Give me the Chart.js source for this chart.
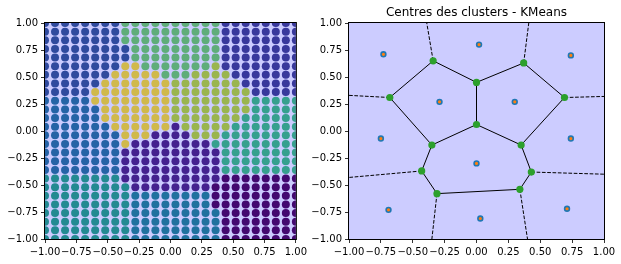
<!DOCTYPE html>
<html>
<head>
<meta charset="utf-8">
<script src="https://cdn.jsdelivr.net/npm/chart.js@4.4.0/dist/chart.umd.min.js"></script>
<style>
  html, body { margin: 0; padding: 0; background: #fff; }
  #wrap { position: relative; width: 621px; height: 264px; }
  .panel { position: absolute; top: 0; height: 264px; }
  #left { left: 0; width: 310px; }
  #right { left: 310px; width: 311px; }
</style>
</head>
<body>
<div id="wrap">
  <div class="panel" id="left"><canvas id="grid"></canvas></div>
  <div class="panel" id="right"><canvas id="voronoi"></canvas></div>
</div>
<script>
// grid of points (26 x 26), one letter per point = predicted cluster
const gridX = [-1.00, -0.92, -0.84, -0.76, -0.68, -0.60, -0.52, -0.44, -0.36, -0.28, -0.20, -0.12, -0.04,
               0.04, 0.12, 0.20, 0.28, 0.36, 0.44, 0.52, 0.60, 0.68, 0.76, 0.84, 0.92, 1.00];
const gridY = [1.00, 0.92, 0.84, 0.76, 0.68, 0.60, 0.52, 0.44, 0.36, 0.28, 0.20, 0.12, 0.04,
               -0.04, -0.12, -0.20, -0.28, -0.36, -0.44, -0.52, -0.60, -0.68, -0.76, -0.84, -0.92, -1.00];
const gridLabels = [
  "AAAAAAAABBBBBBBBBBCCCCCCCC",
  "AAAAAAAABBBBBBBBBBCCCCCCCC",
  "AAAAAAAABBBBBBBBBBCCCCCCCC",
  "AAAAAAAAABBBBBBBBBCCCCCCCC",
  "AAAAAAAAABBBBBBBBBCCCCCCCC",
  "AAAAAAAADDBBBBBBBECCCCCCCC",
  "AAAAAAADDDDDBBBEEEECCCCCCC",
  "AAAAAADDDDDDDEEEEEEECCCCCC",
  "AAAAADDDDDDDDEEEEEEEECCCCC",
  "FFFFFDDDDDDDDEEEEEEEEGGGGG",
  "FFFFFFDDDDDDDEEEEEEEEGGGGG",
  "FFFFFFDDDDDDDEEEEEEEGGGGGG",
  "FFFFFFFDDDDDDHEEEEEGGGGGGG",
  "FFFFFFFFDDDHHHHEEEGGGGGGGG",
  "FFFFFFFFDHHHHHHHHGGGGGGGGG",
  "FFFFFFFFHHHHHHHHHHGGGGGGGG",
  "FFFFFFFFHHHHHHHHHHGGGGGGGG",
  "FFFFFFFFHHHHHHHHHHGGGGGGGG",
  "IIIIIIIIHHHHHHHHHHKKKKKKKK",
  "IIIIIIIIIHHHHHHHHKKKKKKKKK",
  "IIIIIIIIIJJJJJJJJKKKKKKKKK",
  "IIIIIIIIIJJJJJJJJKKKKKKKKK",
  "IIIIIIIIIJJJJJJJJJKKKKKKKK",
  "IIIIIIIIIJJJJJJJJJKKKKKKKK",
  "IIIIIIIIIJJJJJJJJJKKKKKKKK",
  "IIIIIIIIIJJJJJJJJJKKKKKKKK"
];
const clusterColors = {
  A: '#2f4a9e', B: '#5fad7a', C: '#38389c', D: '#d0b94c', E: '#9ab54f', F: '#2563a6',
  G: '#36a08e', H: '#44218f', I: '#238a92', J: '#20719f', K: '#430870'
};

// KMeans centres
const centresX = [-0.73, 0.02, 0.74, -0.29, 0.30, -0.75, 0.74, 0.00, -0.69, 0.03, 0.71];
const centresY = [0.71, 0.80, 0.70, 0.27, 0.27, -0.07, -0.07, -0.30, -0.73, -0.81, -0.72];

// voronoi vertices and ridges
const vertX = [-0.34, 0.37, 0.00, -0.68, 0.69, 0.00, -0.35, 0.35, -0.43, 0.43, -0.31, 0.34];
const vertY = [0.65, 0.63, 0.45, 0.31, 0.31, 0.06, -0.13, -0.13, -0.37, -0.38, -0.58, -0.54];
const ridges = [[0, 2], [2, 1], [0, 3], [1, 4], [2, 5], [3, 6], [4, 7], [5, 6], [5, 7],
                [6, 8], [7, 9], [8, 10], [9, 11], [10, 11]];
// ridges going to infinity: start vertex and the point where they leave the box
const farVertex = [0, 1, 3, 4, 8, 9, 10, 11];
const farX = [-0.39, 0.41, -1.00, 1.00, -1.00, 1.00, -0.35, 0.40];
const farY = [1.00, 1.00, 0.33, 0.32, -0.43, -0.40, -1.00, -1.00];

Chart.defaults.font.family = "'DejaVu Sans', sans-serif";
Chart.defaults.font.size = 10;
Chart.defaults.color = '#000';

const fmt = v => (v < 0 ? '\u2212' : '') + Math.abs(v).toFixed(2);

function axis(size, isY) {
  return {
    type: 'linear', min: -1, max: 1,
    border: { display: false },
    grid: { drawOnChartArea: false, drawTicks: true, tickLength: 4, tickColor: '#000', tickWidth: 0.8 },
    ticks: { stepSize: 0.25, autoSkip: false, maxRotation: 0, minRotation: 0, padding: 3, callback: fmt },
    afterFit(scale) {
      if (isY) scale.width = size; else scale.height = size;
    }
  };
}

// lavender background + black frame round the plot area
const frame = {
  id: 'frame',
  beforeDraw(chart) {
    const { ctx, chartArea: a } = chart;
    ctx.save();
    ctx.fillStyle = '#ccccff';
    ctx.fillRect(a.left, a.top, a.right - a.left, a.bottom - a.top);
    ctx.restore();
  },
  afterDraw(chart) {
    const { ctx, chartArea: a } = chart;
    ctx.save();
    ctx.strokeStyle = '#000';
    ctx.lineWidth = 1;
    ctx.strokeRect(a.left - 0.5, a.top - 0.5, a.right - a.left + 1, a.bottom - a.top + 1);
    ctx.restore();
  }
};

// left: grid coloured by cluster
const gridPoints = [];
const gridColors = [];
gridLabels.forEach((row, j) => {
  for (let i = 0; i < row.length; i++) {
    gridPoints.push({ x: gridX[i], y: gridY[j] });
    gridColors.push(clusterColors[row[i]]);
  }
});

new Chart(document.getElementById('grid'), {
  type: 'scatter',
  data: {
    datasets: [{
      data: gridPoints,
      backgroundColor: gridColors,
      borderWidth: 0,
      pointRadius: 4,
      pointHoverRadius: 4,
      clip: 0
    }]
  },
  options: {
    responsive: true,
    maintainAspectRatio: false,
    animation: false,
    events: [],
    layout: { padding: { top: 23, right: 12, left: 0, bottom: 0 } },
    plugins: { legend: { display: false }, tooltip: { enabled: false } },
    scales: { x: axis(25, false), y: axis(45, true) }
  },
  plugins: [frame]
});

// right: centres and voronoi diagram
const lineSets = [];
ridges.forEach(r => {
  lineSets.push({
    data: [{ x: vertX[r[0]], y: vertY[r[0]] }, { x: vertX[r[1]], y: vertY[r[1]] }],
    showLine: true, borderColor: '#000', borderWidth: 1, pointRadius: 0, clip: 0, order: 2
  });
});
farVertex.forEach((v, k) => {
  lineSets.push({
    data: [{ x: vertX[v], y: vertY[v] }, { x: farX[k], y: farY[k] }],
    showLine: true, borderColor: '#000', borderWidth: 1, borderDash: [3.7, 1.6],
    pointRadius: 0, clip: 0, order: 2
  });
});

new Chart(document.getElementById('voronoi'), {
  type: 'scatter',
  data: {
    datasets: [
      {
        data: vertX.map((x, k) => ({ x, y: vertY[k] })),
        backgroundColor: '#2ca02c', borderWidth: 0, pointRadius: 3.6, pointHoverRadius: 3.6,
        clip: 0, order: 0
      },
      {
        data: centresX.map((x, k) => ({ x, y: centresY[k] })),
        backgroundColor: '#ff7f0e', borderColor: '#1f77b4', borderWidth: 1.6,
        pointRadius: 2.4, pointHoverRadius: 2.4, clip: 0, order: 1
      },
      ...lineSets
    ]
  },
  options: {
    responsive: true,
    maintainAspectRatio: false,
    animation: false,
    events: [],
    layout: { padding: { top: 0, right: 17, left: 0, bottom: 0 } },
    plugins: {
      legend: { display: false },
      tooltip: { enabled: false },
      title: {
        display: true,
        text: 'Centres des clusters - KMeans',
        fullSize: false,
        color: '#000',
        font: { size: 12, weight: 'normal' },
        padding: { top: 6, bottom: 2.6 }
      }
    },
    scales: { x: axis(25, false), y: axis(39, true) }
  },
  plugins: [frame]
});
</script>
</body>
</html>
